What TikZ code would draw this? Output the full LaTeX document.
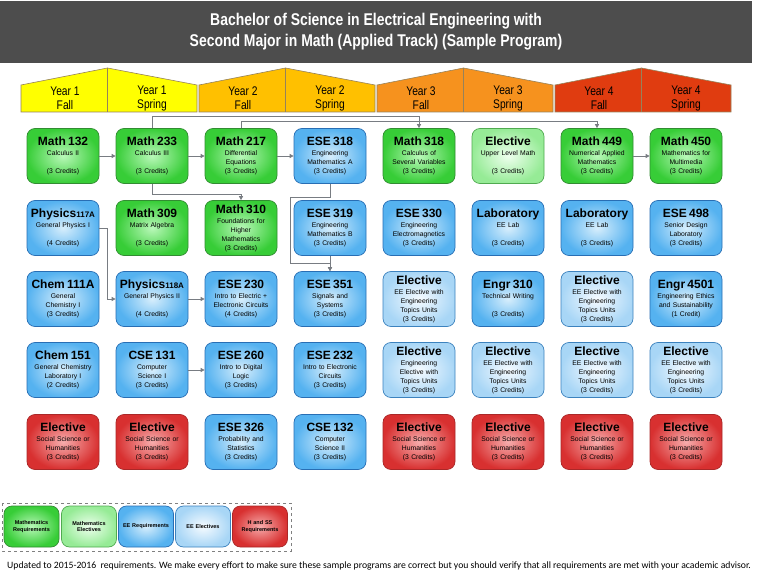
\documentclass[tikz,border=0pt]{standalone}
\usepackage{fontspec}
\setmainfont{Liberation Sans}
\newfontfamily\narrowfont[FakeStretch=0.82]{Liberation Sans}
\newfontfamily\footfont{Carlito}
\usetikzlibrary{arrows.meta}
\definecolor{titlegray}{RGB}{77,77,77}
\definecolor{linkgray}{RGB}{120,124,130}
\definecolor{roofline}{RGB}{150,130,90}
\definecolor{yone}{RGB}{255,255,0}
\definecolor{ytwo}{RGB}{255,192,0}
\definecolor{ythree}{RGB}{246,146,30}
\definecolor{yfour}{RGB}{224,60,16}
\definecolor{mreqin}{RGB}{185,248,185}
\definecolor{mreqout}{RGB}{55,205,55}
\definecolor{mreqline}{RGB}{50,140,50}
\definecolor{melecin}{RGB}{238,255,238}
\definecolor{melecout}{RGB}{150,235,150}
\definecolor{melecline}{RGB}{80,170,80}
\definecolor{ereqin}{RGB}{215,238,252}
\definecolor{ereqout}{RGB}{85,178,240}
\definecolor{ereqline}{RGB}{40,110,180}
\definecolor{eelecin}{RGB}{246,251,255}
\definecolor{eelecout}{RGB}{168,214,246}
\definecolor{eelecline}{RGB}{60,130,190}
\definecolor{hssin}{RGB}{246,172,172}
\definecolor{hssout}{RGB}{216,48,48}
\definecolor{hssline}{RGB}{170,40,40}
\newcommand{\crs}[2]{{\fontsize{12}{13}\selectfont\bfseries #1}\\[1pt]#2}
\newcommand{\num}[1]{{\fontsize{8}{9}\selectfont #1}}

\begin{document}
\begin{tikzpicture}[x=1pt, y=-1pt,
    course/.style={rounded corners=8pt, line width=0.7pt, minimum width=72pt,
      minimum height=55pt, inner sep=0pt, text width=72pt, align=center,
      font=\fontsize{6.8}{9}\selectfont},
    mreq/.style={course, draw=mreqline, inner color=mreqin, outer color=mreqout},
    melec/.style={course, draw=melecline, inner color=melecin, outer color=melecout},
    ereq/.style={course, draw=ereqline, inner color=ereqin, outer color=ereqout},
    eelec/.style={course, draw=eelecline, inner color=eelecin, outer color=eelecout},
    hss/.style={course, draw=hssline, inner color=hssin, outer color=hssout},
    keybox/.style={minimum width=55pt, minimum height=41pt, text width=55pt,
      font=\fontsize{5.5}{6.5}\selectfont\bfseries},
    link/.style={draw=linkgray, line width=0.8pt, -{Triangle[length=4pt,width=4pt]}}]
    \useasboundingbox[fill=white] (0,0) rectangle (757,577);
    % Title
    \fill[titlegray] (0,1) rectangle (752,63);
    \node[text=white, align=center, font=\narrowfont\bfseries\fontsize{17}{21}\selectfont]
      (title) at (376,32) {Bachelor of Science in Electrical Engineering with\\
      Second Major in Math (Applied Track) (Sample Program)};
    % Year headers
    \foreach \yr/\ca/\cb/\col in {1/63/152/yone, 2/241/330/ytwo, 3/419/508/ythree, 4/597/686/yfour}{
      \pgfmathsetmacro{\xl}{\ca-42}
      \pgfmathsetmacro{\xr}{\cb+45}
      \pgfmathsetmacro{\xp}{(\ca+\cb)/2}
      \draw[roofline, fill=\col, line width=0.6pt] (\xl,112) -- (\xl,85) -- (\xp,68)
        -- (\xr,85) -- (\xr,112) -- cycle;
      \draw[roofline, line width=0.6pt] (\xp,68) -- (\xp,112);
      \node[align=center, font=\narrowfont\fontsize{12.5}{14}\selectfont]
        (fall\yr) at (\ca+2,98) {Year \yr\\Fall};
      \node[align=center, font=\narrowfont\fontsize{12.5}{14}\selectfont]
        (spring\yr) at (\cb,98) {Year \yr\\Spring};
    }
    % Row 1
    \node[mreq] (math132) at (63,156) {\crs{Math 132}{Calculus II\\\mbox{}\\(3 Credits)}};
    \node[mreq] (math233) at (152,156) {\crs{Math 233}{Calculus III\\\mbox{}\\(3 Credits)}};
    \node[mreq] (math217) at (241,156) {\crs{Math 217}{Differential\\Equations\\(3 Credits)}};
    \node[ereq] (ese318) at (330,156) {\crs{ESE 318}{Engineering\\Mathematics A\\(3 Credits)}};
    \node[mreq] (math318) at (419,156) {\crs{Math 318}{Calculus of\\Several Variables\\(3 Credits)}};
    \node[melec] (upelec) at (508,156) {\crs{Elective}{Upper Level Math\\\mbox{}\\(3 Credits)}};
    \node[mreq] (math449) at (597,156) {\crs{Math 449}{Numerical Applied\\Mathematics\\(3 Credits)}};
    \node[mreq] (math450) at (686,156) {\crs{Math 450}{Mathematics for\\Multimedia\\(3 Credits)}};
    % Row 2
    \node[ereq] (phys117) at (63,228) {\crs{Physics\num{117A}}{General Physics I\\\mbox{}\\(4 Credits)}};
    \node[mreq] (math309) at (152,228) {\crs{Math 309}{Matrix Algebra\\\mbox{}\\(3 Credits)}};
    \node[mreq] (math310) at (241,228) {\crs{Math 310}{Foundations for\\Higher\\Mathematics\\(3 Credits)}};
    \node[ereq] (ese319) at (330,228) {\crs{ESE 319}{Engineering\\Mathematics B\\(3 Credits)}};
    \node[ereq] (ese330) at (419,228) {\crs{ESE 330}{Engineering\\Electromagnetics\\(3 Credits)}};
    \node[ereq] (labA) at (508,228) {\crs{Laboratory}{EE Lab\\\mbox{}\\(3 Credits)}};
    \node[ereq] (labB) at (597,228) {\crs{Laboratory}{EE Lab\\\mbox{}\\(3 Credits)}};
    \node[ereq] (ese498) at (686,228) {\crs{ESE 498}{Senior Design\\Laboratory\\(3 Credits)}};
    % Row 3
    \node[ereq] (chem111) at (63,299) {\crs{Chem 111A}{General\\Chemistry I\\(3 Credits)}};
    \node[ereq] (phys118) at (152,299) {\crs{Physics\num{118A}}{General Physics II\\\mbox{}\\(4 Credits)}};
    \node[ereq] (ese230) at (241,299) {\crs{ESE 230}{Intro to Electric +\\Electronic Circuits\\(4 Credits)}};
    \node[ereq] (ese351) at (330,299) {\crs{ESE 351}{Signals and\\Systems\\(3 Credits)}};
    \node[eelec] (eeelecA) at (419,299) {\crs{Elective}{EE Elective with\\Engineering\\Topics Units\\(3 Credits)}};
    \node[ereq] (engr310) at (508,299) {\crs{Engr 310}{Technical Writing\\\mbox{}\\(3 Credits)}};
    \node[eelec] (eeelecB) at (597,299) {\crs{Elective}{EE Elective with\\Engineering\\Topics Units\\(3 Credits)}};
    \node[ereq] (engr4501) at (686,299) {\crs{Engr 4501}{Engineering Ethics\\and Sustainability\\(1 Credit)}};
    % Row 4
    \node[ereq] (chem151) at (63,370) {\crs{Chem 151}{General Chemistry\\Laboratory I\\(2 Credits)}};
    \node[ereq] (cse131) at (152,370) {\crs{CSE 131}{Computer\\Science I\\(3 Credits)}};
    \node[ereq] (ese260) at (241,370) {\crs{ESE 260}{Intro to Digital\\Logic\\(3 Credits)}};
    \node[ereq] (ese232) at (330,370) {\crs{ESE 232}{Intro to Electronic\\Circuits\\(3 Credits)}};
    \node[eelec] (engelec) at (419,370) {\crs{Elective}{Engineering\\Elective with\\Topics Units\\(3 Credits)}};
    \node[eelec] (eeelecC) at (508,370) {\crs{Elective}{EE Elective with\\Engineering\\Topics Units\\(3 Credits)}};
    \node[eelec] (eeelecD) at (597,370) {\crs{Elective}{EE Elective with\\Engineering\\Topics Units\\(3 Credits)}};
    \node[eelec] (eeelecE) at (686,370) {\crs{Elective}{EE Elective with\\Engineering\\Topics Units\\(3 Credits)}};
    % Row 5
    \node[hss] (hssA) at (63,442) {\crs{Elective}{Social Science or\\Humanities\\(3 Credits)}};
    \node[hss] (hssB) at (152,442) {\crs{Elective}{Social Science or\\Humanities\\(3 Credits)}};
    \node[ereq] (ese326) at (241,442) {\crs{ESE 326}{Probability and\\Statistics\\(3 Credits)}};
    \node[ereq] (cse132) at (330,442) {\crs{CSE 132}{Computer\\Science II\\(3 Credits)}};
    \node[hss] (hssC) at (419,442) {\crs{Elective}{Social Science or\\Humanities\\(3 Credits)}};
    \node[hss] (hssD) at (508,442) {\crs{Elective}{Social Science or\\Humanities\\(3 Credits)}};
    \node[hss] (hssE) at (597,442) {\crs{Elective}{Social Science or\\Humanities\\(3 Credits)}};
    \node[hss] (hssF) at (686,442) {\crs{Elective}{Social Science or\\Humanities\\(3 Credits)}};
    % Prerequisites
    \draw[link] (math132.east) -- (math233.west);
    \draw[link] (math233.east) -- (math217.west);
    \draw[link] (math217.east) -- (ese318.west);
    \draw[link] (math449.east) -- (math450.west);
    \draw[link] (math233.north) -- ++(0,-12) -| (math318.north);
    \draw[link] (math217.north) -- ++(0,-7) -| (math449.north);
    \draw[link] (math233.south) -- ++(0,11) -| (math310.north);
    \coordinate (bend351) at (290,263);
    \draw[link] (ese318.south) -- ++(0,14) -| (bend351) -| (ese351.north);
    \draw[link] (ese319.south) -- (ese351.north);
    \draw[link] (phys117.east) -- ++(8,0) |- (phys118.west);
    \draw[link] (phys118.east) -- (ese230.west);
    \draw[link] (cse131.east) -- (ese260.west);
    % Legend
    \draw[gray, dashed, line width=0.5pt] (2,503) rectangle (291,551);
    \node[mreq, keybox] (keymreq) at (31.5,526.5) {Mathematics\\Requirements};
    \node[melec, keybox] (keymelec) at (89,526.5) {Mathematics\\Electives};
    \node[ereq, keybox] (keyereq) at (146,526.5) {EE Requirements};
    \node[eelec, keybox] (keyeelec) at (203,526.5) {EE Electives};
    \node[hss, keybox] (keyhss) at (260,526.5) {H and SS\\Requirements};
    % Footnote
    \node[anchor=base west, inner sep=0pt, font=\footfont\fontsize{9.7}{11}\selectfont] (note) at (7,568)
      {Updated to 2015-2016\ \ requirements. We make every effort to make sure these sample programs are correct but you should verify that all requirements are met with your academic advisor.};
\end{tikzpicture}
\end{document}
